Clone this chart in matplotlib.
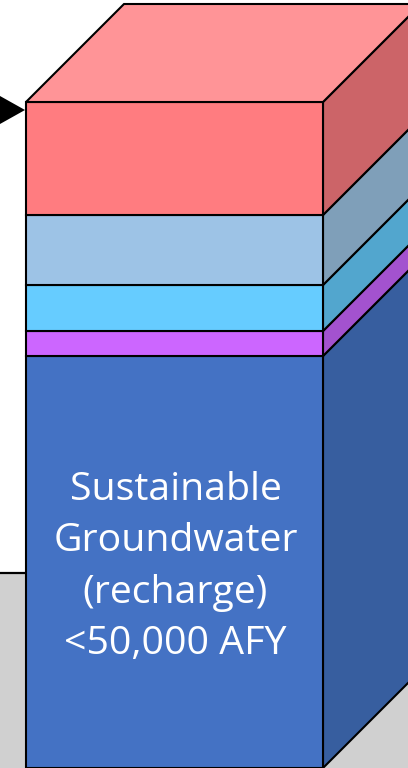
import matplotlib
matplotlib.use("Agg")
import matplotlib.pyplot as plt
from matplotlib.patches import Polygon, Rectangle

# Stacked layers of the block, bottom to top (relative thickness, px-scale units)
layers = ["Sustainable Groundwater", "Purple", "Cyan", "Light blue", "Red"]
values = [412, 25, 46, 70, 113]
front_colors = ["#4472C4", "#CC66FF", "#66CCFF", "#9DC3E6", "#FF7C80"]
side_colors = ["#375E9F", "#A352CF", "#52A6CE", "#7F9FB9", "#CC6468"]
top_color = "#FF9497"
label_text = "Sustainable\nGroundwater\n(recharge)\n<50,000 AFY"
floor_level = 195  # height of grey floor behind block

W, H = 408, 768
fig = plt.figure(figsize=(W / 100, H / 100), dpi=100)
ax = fig.add_axes([0, 0, 1, 1])
ax.set_xlim(0, W)
ax.set_ylim(0, H)
ax.axis("off")

# grey floor behind
ax.add_patch(Rectangle((0, -5), W, floor_level + 5, facecolor="#D0D0D0",
                       edgecolor="none", zorder=0))
ax.plot([0, W], [floor_level, floor_level], color="black", lw=1.6, zorder=0.5)

x0, x1 = 26, 323
depth = 98
lw = 1.5
base = 0
for name, v, fc, sc in zip(layers, values, front_colors, side_colors):
    top = base + v
    ax.add_patch(Polygon([(x0, base), (x1, base), (x1, top), (x0, top)],
                         closed=True, facecolor=fc, edgecolor="black", lw=lw,
                         joinstyle="miter", zorder=2))
    ax.add_patch(Polygon([(x1, base), (x1 + depth, base + depth),
                          (x1 + depth, top + depth), (x1, top)],
                         closed=True, facecolor=sc, edgecolor="black", lw=lw,
                         joinstyle="miter", zorder=1.5))
    base = top

# top face
ax.add_patch(Polygon([(x0, base), (x0 + depth, base + depth),
                      (x1 + depth, base + depth), (x1, base)],
                     closed=True, facecolor=top_color, edgecolor="black",
                     lw=lw, joinstyle="miter", zorder=2))

# arrow head pointing at block top
ax.add_patch(Polygon([(0, H - 96), (25, H - 110), (0, H - 124)], closed=True,
                     facecolor="black", edgecolor="none", zorder=3))

ax.text((x0 + x1) / 2 + 1, H - 567, label_text, color="white",
        ha="center", va="center", fontsize=28.3, family=["Open Sans", "DejaVu Sans"],
        linespacing=1.45, zorder=4)

fig.savefig("out.png", dpi=100, facecolor="white")
